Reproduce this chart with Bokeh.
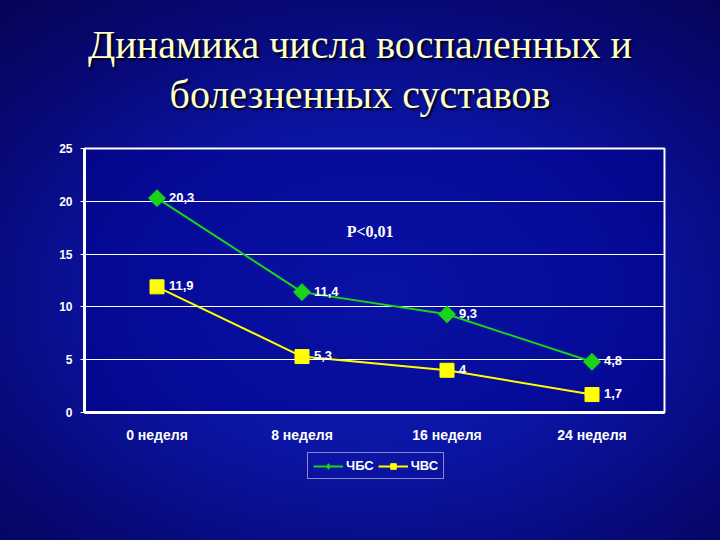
from bokeh.plotting import figure
from bokeh.models import Legend, LegendItem, Label, SingleIntervalTicker, Div
from bokeh.layouts import column
from bokeh.embed import file_html
from bokeh.resources import INLINE
from bokeh.core.properties import value

weeks = ["0 неделя", "8 неделя", "16 неделя", "24 неделя"]
chbs = [20.3, 11.4, 9.3, 4.8]
chvs = [11.9, 5.3, 4.0, 1.7]
series_names = ["ЧБС", "ЧВС"]
title_lines = ["Динамика числа воспаленных и", "болезненных суставов"]
note_text = "P<0,01"

def fmt(v):
    return f"{v:g}".replace(".", ",")

green = "#19d419"
yellow = "#ffff00"

title_div = Div(
    text=('<div style="font-family: \'Liberation Serif\'; font-size: 40px; '
          'color: #ffffc8; text-align: center; line-height: 50px; width: 720px; '
          'padding-top: 20px; text-shadow: 2px 2px 2px #00001e;">'
          + "<br>".join(title_lines) + "</div>"),
    width=720, height=125, margin=0)

p = figure(x_range=weeks, y_range=(0, 25),
           frame_width=580, frame_height=265,
           output_backend="svg", toolbar_location=None,
           min_border_left=84, min_border_right=56, min_border_top=23,
           min_border_bottom=32)
p.border_fill_color = None
p.background_fill_color = "#00008c"
p.background_fill_alpha = 0.45
p.outline_line_color = "white"
p.outline_line_width = 2
p.outline_line_alpha = 1

# axes
p.yaxis.ticker = SingleIntervalTicker(interval=5)
for ax in (p.xaxis, p.yaxis):
    ax.axis_line_color = "white"
    ax.axis_line_width = 3
    ax.major_tick_line_color = "white"
    ax.major_tick_line_width = 1
    ax.major_tick_in = 0
    ax.major_tick_out = 4
    ax.minor_tick_line_color = None
    ax.major_label_text_color = "white"
    ax.major_label_text_font = "Liberation Sans"
    ax.major_label_text_font_style = "bold"
p.yaxis.major_label_text_font_size = "12px"
p.yaxis.major_label_standoff = 8
p.xaxis.major_label_text_font_size = "14px"
p.xaxis.major_label_standoff = 10
p.xaxis.major_tick_line_color = None

p.xgrid.grid_line_color = None
p.ygrid.grid_line_color = "white"
p.ygrid.grid_line_width = 1

p.line(weeks, chbs, line_color=green, line_width=2)
p.scatter(weeks, chbs, marker="square", angle=0.7854, size=12,
          fill_color=green, line_color=green)
p.line(weeks, chvs, line_color=yellow, line_width=2)
p.scatter(weeks, chvs, marker="square", size=14, fill_color=yellow, line_color=yellow)

for vals in (chbs, chvs):
    p.text(weeks, vals, text=[fmt(v) for v in vals], x_offset=12, y_offset=-1,
           text_color="white", text_font=value("Liberation Sans"),
           text_font_size="13px", text_font_style="bold",
           text_align="left", text_baseline="middle")

p.add_layout(Label(x=1.97, y=17.1, text=note_text, text_color="white",
                   text_font="Liberation Serif", text_font_style="bold",
                   text_font_size="16px", text_align="center",
                   text_baseline="middle"))

# legend strip below the chart (same series, plotted outside its visible range)
q = figure(width=720, height=95, x_range=weeks, y_range=(30, 31),
           x_axis_location=None, y_axis_location=None,
           output_backend="svg", toolbar_location=None, min_border=0)
q.border_fill_color = None
q.background_fill_color = None
q.outline_line_color = None
q.grid.visible = False
ql1 = q.line(weeks, chbs, line_color=green, line_width=2)
qm1 = q.scatter(weeks, chbs, marker="diamond", size=11,
                fill_color=green, line_color=green)
ql2 = q.line(weeks, chvs, line_color=yellow, line_width=2)
qm2 = q.scatter(weeks, chvs, marker="square", size=9, fill_color=yellow, line_color=yellow)

legend = Legend(items=[LegendItem(label=series_names[0], renderers=[ql1, qm1]),
                       LegendItem(label=series_names[1], renderers=[ql2, qm2])],
                orientation="horizontal", location=(223, 61))
legend.background_fill_alpha = 0
legend.border_line_color = "white"
legend.border_line_width = 1
legend.label_text_color = "white"
legend.label_text_font = "Liberation Sans"
legend.label_text_font_style = "bold"
legend.label_text_font_size = "13px"
legend.glyph_width = 30
legend.glyph_height = 14
legend.spacing = 4
legend.padding = 5
legend.margin = 0
legend.label_standoff = 3
q.add_layout(legend, "center")

layout = column(title_div, p, q, spacing=0, width=720, height=540,
                styles={"background": "radial-gradient(ellipse 75% 70% at 52% 55%, #1222b8 0%, #0b14a2 45%, #070874 80%, #05055a 100%)"})

html = file_html(layout, INLINE)
html = html.replace("<body>", '<body style="background:#07086a">', 1)
open("out.html", "w").write(html)
